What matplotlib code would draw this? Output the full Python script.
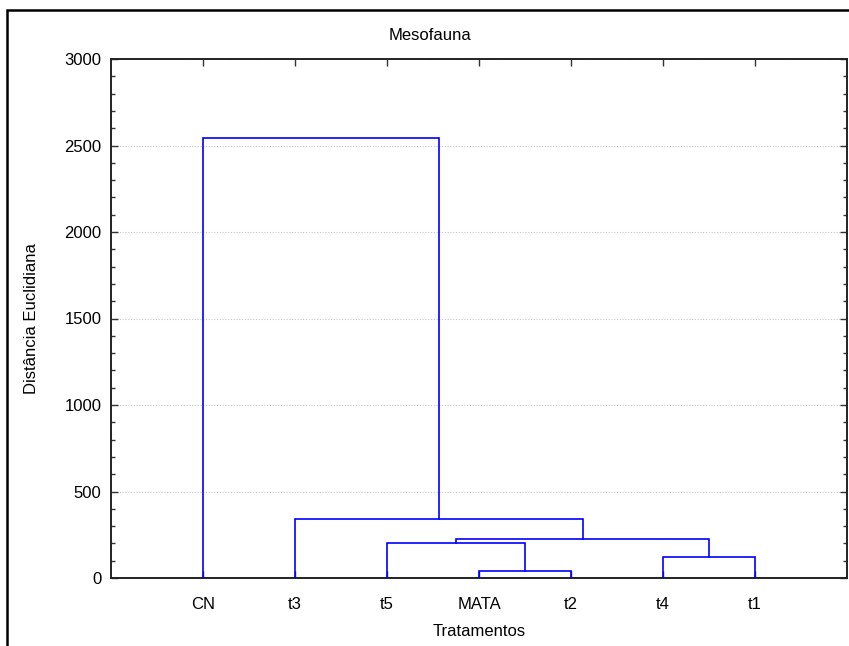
import matplotlib
matplotlib.use("Agg")
import matplotlib.pyplot as plt
from matplotlib.patches import Rectangle
from matplotlib.ticker import MultipleLocator

plt.rcParams["font.family"] = ["Liberation Sans", "DejaVu Sans"]
plt.rcParams["font.size"] = 12

# =========================
# data: leaves in plotted order, merges as (left, right, height)
# leaf ids 0..6, new clusters get ids 7, 8, ...
# =========================
labels = ["CN", "t3", "t5", "MATA", "t2", "t4", "t1"]
left_child = [3, 5, 2, 9, 1, 0]
right_child = [4, 6, 7, 8, 10, 11]
heights = [40, 120, 204, 225, 341, 2543]

title = "Mesofauna"
x_label = "Tratamentos"
y_label = "Distância Euclidiana"

# =========================
# figure
# =========================
fig = plt.figure(figsize=(8.49, 6.46), dpi=100)
ax = fig.add_axes([111 / 849, 68 / 646, 736 / 849, 519 / 646])

# outer frame (cut by figure edges on right/bottom, like the source)
fig.patches.append(Rectangle((7 / 849, -0.1), 1.2, 1 - 10 / 646 + 0.1,
                             transform=fig.transFigure, fill=False,
                             edgecolor="black", linewidth=1.8))

pos = {i: float(i + 1) for i in range(len(labels))}
hgt = {i: 0.0 for i in range(len(labels))}

next_id = len(labels)
for a, b, h in zip(left_child, right_child, heights):
    xa, xb = pos[a], pos[b]
    ax.plot([xa, xa, xb, xb], [hgt[a], h, h, hgt[b]],
            color="#0000ff", linewidth=1.2, solid_joinstyle="miter", zorder=3)
    pos[next_id] = (xa + xb) / 2
    hgt[next_id] = h
    next_id += 1

ax.set_xlim(0, len(labels) + 1)
ax.set_ylim(0, 3000)
ax.set_xticks(range(1, len(labels) + 1))
ax.set_xticklabels(labels)
ax.yaxis.set_major_locator(MultipleLocator(500))
ax.yaxis.set_minor_locator(MultipleLocator(100))

ax.grid(axis="y", which="major", linestyle=(0, (1, 1.5)),
        color="#c8c8c8", linewidth=0.8)
ax.set_axisbelow(True)

ax.tick_params(which="both", direction="in", top=True, right=True,
               color="#333333", width=1.0)
ax.tick_params(which="major", length=5)
ax.tick_params(axis="y", which="major", pad=7)
ax.tick_params(axis="x", which="major", pad=14)
ax.tick_params(which="minor", length=3)
for s in ax.spines.values():
    s.set_color("#222222")
    s.set_linewidth(1.4)

ax.set_xlabel(x_label, va="center")
ax.xaxis.set_label_coords(0.5, -(632 - 578) / 519)
ax.set_ylabel(y_label, va="center")
ax.yaxis.set_label_coords((32 - 111) / 736, 0.5)
fig.text(430 / 849, 1 - 35 / 646, title, ha="center", va="center")

plt.savefig("out.png", dpi=100)
